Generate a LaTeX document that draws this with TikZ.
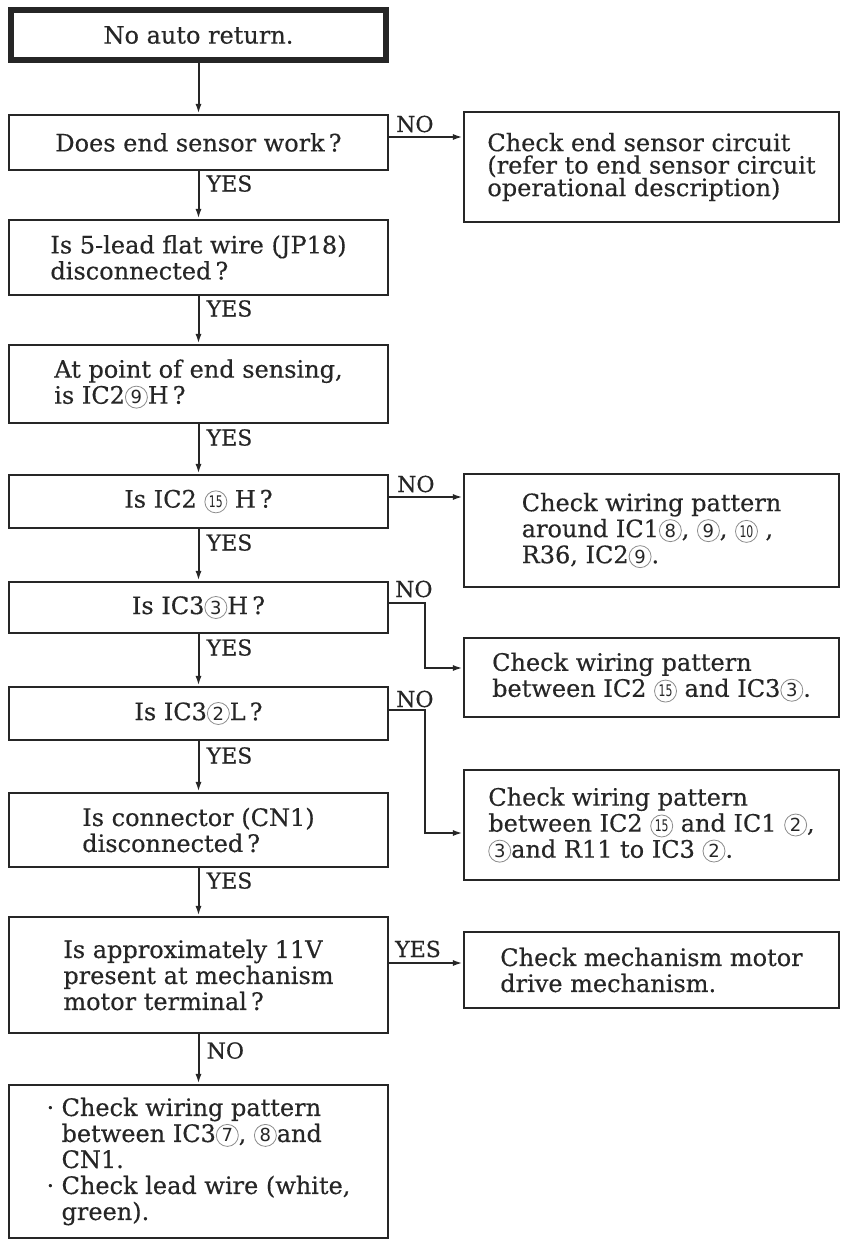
\documentclass[tikz,border=0pt]{standalone}
\usepackage{fontspec}
\usepackage{graphicx}
\setmainfont{DejaVu Serif}[FakeBold=0.35]
\newfontfamily\cnfont{DejaVu Sans}
\usetikzlibrary{arrows.meta}
\colorlet{ink}{black!85}
\newcommand\cn[1]{\tikz[baseline=(c.base)]\node[circle,draw=black!45,line width=0.8pt,inner sep=0pt,minimum size=22pt,font=\cnfont\fontsize{18}{18}\selectfont,text=ink](c){#1};}
\newcommand\cnn[1]{\tikz[baseline=(c.base)]\node[circle,draw=black!45,line width=0.8pt,inner sep=0pt,minimum size=22pt,font=\cnfont\fontsize{16}{16}\selectfont,text=ink](c){\scalebox{0.68}[1]{#1}};}
\newcommand\bul{\makebox[15pt][l]{·}}
\newcommand\ind{\hspace*{15pt}}
\tikzset{
  box/.style={draw=ink, line width=2.2pt, align=left, inner sep=0pt, text=ink, font=\fontsize{24}{26}\selectfont},
  lbox/.style={box, minimum width=379pt},
  rbox/.style={box, minimum width=375pt},
  lbl/.style={inner sep=0pt, text=ink, font=\fontsize{22}{22}\selectfont},
  arr/.style={draw=ink, line width=2pt, -{Latex[length=10pt,width=6pt]}},
}
\begin{document}
\begin{tikzpicture}[x=1pt,y=-1pt]
\fill[white] (0,0) rectangle (841,1241);
\useasboundingbox (0,0) rectangle (841,1241);

% left column
\node[lbox, line width=5.5pt, minimum width=375pt, minimum height=50pt] (B1) at (198.5,35) {No auto return.};
\node[lbox, minimum height=55pt] (B2) at (198.5,142.5) {Does end sensor work\,?};
\node[lbox, minimum height=75pt] (B3) at (198.5,257.5) {Is 5-lead flat wire (JP18)\\disconnected\,?};
\node[lbox, minimum height=78pt] (B4) at (198.5,384) {At point of end sensing,\\is IC2\cn{9}H\,?};
\node[lbox, minimum height=53pt] (B5) at (198.5,501.5) {Is IC2 \cnn{15} H\,?};
\node[lbox, minimum height=51pt] (B6) at (198.5,607.5) {Is IC3\cn{3}H\,?};
\node[lbox, minimum height=53pt] (B7) at (198.5,713.5) {Is IC3\cn{2}L\,?};
\node[lbox, minimum height=74pt] (B8) at (198.5,830) {Is connector (CN1)\\disconnected\,?};
\node[lbox, minimum height=116pt] (B9) at (198.5,975) {Is approximately 11V\\present at mechanism\\motor terminal\,?};
\node[lbox, minimum height=153pt] (B10) at (198.5,1161.5) {\bul Check wiring pattern\\\ind between IC3\cn{7}, \cn{8}and\\\ind CN1.\\\bul Check lead wire (white,\\\ind green).};

% right column
\node[rbox, minimum height=110pt, font=\fontsize{24}{22.5}\selectfont] (R1) at (651.5,167) {Check end sensor circuit\\(refer to end sensor circuit\\operational description)};
\node[rbox, minimum height=113pt] (R2) at (651.5,530.5) {Check wiring pattern\\around IC1\cn{8}, \cn{9}, \cnn{10} ,\\R36, IC2\cn{9}.};
\node[rbox, minimum height=79pt] (R3) at (651.5,677.5) {Check wiring pattern\\between IC2 \cnn{15} and IC3\cn{3}.};
\node[rbox, minimum height=110pt] (R4) at (651.5,825) {Check wiring pattern\\between IC2 \cnn{15} and IC1 \cn{2},\\\cn{3}and R11 to IC3 \cn{2}.};
\node[rbox, minimum height=76pt] (R5) at (651.5,970) {Check mechanism motor\\drive mechanism.};

\coordinate (J) at (425,0);

% vertical connectors
\draw[arr] (B1.south) -- (B2.north);
\draw[arr] (B2.south) -- (B3.north);
\draw[arr] (B3.south) -- (B4.north);
\draw[arr] (B4.south) -- (B5.north);
\draw[arr] (B5.south) -- (B6.north);
\draw[arr] (B6.south) -- (B7.north);
\draw[arr] (B7.south) -- (B8.north);
\draw[arr] (B8.south) -- (B9.north);
\draw[arr] (B9.south) -- (B10.north);

% side connectors
\draw[arr] ([yshift=5.5pt]B2.east) -- ([yshift=5.5pt]B2.east -| R1.west);
\draw[arr] ([yshift=4.5pt]B5.east) -- ([yshift=4.5pt]B5.east -| R2.west);
\draw[arr] ([yshift=4.5pt]B6.east) -- ([yshift=4.5pt]B6.east -| J) |- ([yshift=9.5pt]R3.west);
\draw[arr] ([yshift=3.5pt]B7.east) -- ([yshift=3.5pt]B7.east -| J) |- ([yshift=-8pt]R4.west);
\draw[arr] ([yshift=12pt]B9.east) -- ([yshift=12pt]B9.east -| R5.west);

% labels
\node[lbl, anchor=north west] (y1) at (206.5,175) {YES};
\node[lbl, anchor=north west] (y2) at (206.5,300) {YES};
\node[lbl, anchor=north west] (y3) at (206.5,429) {YES};
\node[lbl, anchor=north west] (y4) at (206.5,534) {YES};
\node[lbl, anchor=north west] (y5) at (206.5,639) {YES};
\node[lbl, anchor=north west] (y6) at (206.5,747) {YES};
\node[lbl, anchor=north west] (y7) at (206.5,872) {YES};
\node[lbl, anchor=north west] (n5) at (206.5,1042) {NO};
\node[lbl, anchor=base west] (n1) at (396,132) {NO};
\node[lbl, anchor=base west] (n2) at (397,492) {NO};
\node[lbl, anchor=base west] (n3) at (395,597) {NO};
\node[lbl, anchor=base west] (n4) at (396,707) {NO};
\node[lbl, anchor=base west] (y8) at (395,957) {YES};
\end{tikzpicture}
\end{document}
